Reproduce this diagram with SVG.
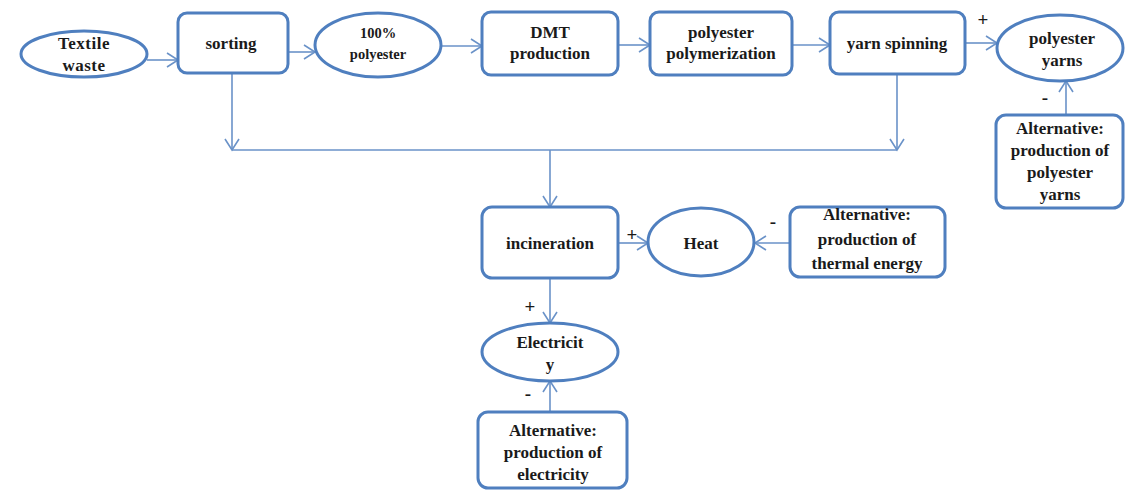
<svg xmlns="http://www.w3.org/2000/svg" width="1126" height="491" viewBox="0 0 1126 491">
  <style>
    .box { fill: #ffffff; stroke: #4f7fbf; stroke-width: 3; }
    .lbl { font-family: "Liberation Serif", "Times New Roman", serif; font-weight: bold; font-size: 17px; fill: #1a1a1a; text-anchor: middle; }
    .sm { font-size: 14.5px; }
    .sign { font-family: "Liberation Serif", "Times New Roman", serif; font-weight: bold; font-size: 19px; fill: #1a1a1a; text-anchor: middle; }
    .edge { fill: none; stroke: #6a92c8; stroke-width: 1.6; }
    .tip { marker-end: url(#arr); }
  </style>
  <defs>
    <marker id="arr" markerWidth="14" markerHeight="16" refX="12" refY="8" orient="auto" markerUnits="userSpaceOnUse">
      <path d="M1,1 L12,8 L1,15" fill="none" stroke="#6a92c8" stroke-width="1.6"/>
    </marker>
  </defs>

  <rect width="1126" height="491" fill="#ffffff"/>

  <!-- connectors -->
  <g id="connectors">
    <line class="edge tip" x1="147" y1="60" x2="178" y2="60"/>
    <line class="edge tip" x1="288" y1="52" x2="315" y2="52"/>
    <line class="edge tip" x1="441" y1="46" x2="482" y2="46"/>
    <line class="edge tip" x1="618" y1="45" x2="650" y2="45"/>
    <line class="edge tip" x1="792" y1="45" x2="830" y2="45"/>
    <line class="edge tip" x1="965" y1="43" x2="997" y2="43"/>
    <line class="edge tip" x1="1066" y1="115" x2="1066" y2="81"/>
    <line class="edge tip" x1="232" y1="74" x2="232" y2="150"/>
    <line class="edge tip" x1="897" y1="74" x2="897" y2="150"/>
    <line class="edge" x1="232" y1="150" x2="897" y2="150"/>
    <line class="edge tip" x1="550" y1="150" x2="550" y2="207"/>
    <line class="edge tip" x1="618" y1="243" x2="648" y2="243"/>
    <line class="edge tip" x1="790" y1="243" x2="755" y2="243"/>
    <line class="edge tip" x1="550" y1="278" x2="550" y2="323"/>
    <line class="edge tip" x1="550" y1="412" x2="550" y2="381"/>
    <text class="sign" x="983" y="26">+</text>
    <text class="sign" x="1045" y="104">-</text>
    <text class="sign" x="632" y="241">+</text>
    <text class="sign" x="773" y="228">-</text>
    <text class="sign" x="530" y="313">+</text>
    <text class="sign" x="528" y="400">-</text>
  </g>

  <g id="textile-waste">
    <ellipse class="box" cx="84" cy="54" rx="63" ry="23"/>
    <text class="lbl" x="84" y="49" letter-spacing="0.5">Textile</text>
    <text class="lbl" x="84" y="71" letter-spacing="0.5">waste</text>
  </g>

  <g id="sorting">
    <rect class="box" x="178" y="13" width="110" height="60" rx="9"/>
    <text class="lbl" x="231" y="49">sorting</text>
  </g>

  <g id="polyester-100">
    <ellipse class="box" cx="378" cy="45" rx="63" ry="32"/>
    <text class="lbl sm" x="378" y="38">100%</text>
    <text class="lbl sm" x="378" y="59">polyester</text>
  </g>

  <g id="dmt-production">
    <rect class="box" x="482" y="12" width="136" height="63" rx="9"/>
    <text class="lbl" x="550" y="38">DMT</text>
    <text class="lbl" x="550" y="59">production</text>
  </g>

  <g id="polymerization">
    <rect class="box" x="650" y="12" width="142" height="63" rx="9"/>
    <text class="lbl" x="721" y="38">polyester</text>
    <text class="lbl" x="721" y="59">polymerization</text>
  </g>

  <g id="yarn-spinning">
    <rect class="box" x="830" y="12" width="135" height="62" rx="9"/>
    <text class="lbl" x="897" y="49">yarn spinning</text>
  </g>

  <g id="polyester-yarns">
    <ellipse class="box" cx="1060" cy="48" rx="63" ry="33"/>
    <text class="lbl" x="1062" y="44">polyester</text>
    <text class="lbl" x="1062" y="66">yarns</text>
  </g>

  <g id="alt-yarns">
    <rect class="box" x="996" y="115" width="127" height="93" rx="10"/>
    <text class="lbl" x="1060" y="134">Alternative:</text>
    <text class="lbl" x="1060" y="156">production of</text>
    <text class="lbl" x="1060" y="178">polyester</text>
    <text class="lbl" x="1060" y="200">yarns</text>
  </g>

  <g id="incineration">
    <rect class="box" x="482" y="207" width="136" height="71" rx="10"/>
    <text class="lbl" x="550" y="249">incineration</text>
  </g>

  <g id="heat">
    <ellipse class="box" cx="701" cy="242" rx="53" ry="34"/>
    <text class="lbl" x="701" y="249">Heat</text>
  </g>

  <g id="alt-thermal">
    <rect class="box" x="790" y="207" width="155" height="70" rx="10"/>
    <text class="lbl" x="867" y="220">Alternative:</text>
    <text class="lbl" x="867" y="245">production of</text>
    <text class="lbl" x="867" y="269">thermal energy</text>
  </g>

  <g id="electricity">
    <ellipse class="box" cx="550" cy="352" rx="68" ry="29"/>
    <text class="lbl" x="550" y="348">Electricit</text>
    <text class="lbl" x="550" y="370">y</text>
  </g>

  <g id="alt-electricity">
    <rect class="box" x="478" y="412" width="149" height="76" rx="10"/>
    <text class="lbl" x="553" y="436">Alternative:</text>
    <text class="lbl" x="553" y="458">production of</text>
    <text class="lbl" x="553" y="480">electricity</text>
  </g>
</svg>
